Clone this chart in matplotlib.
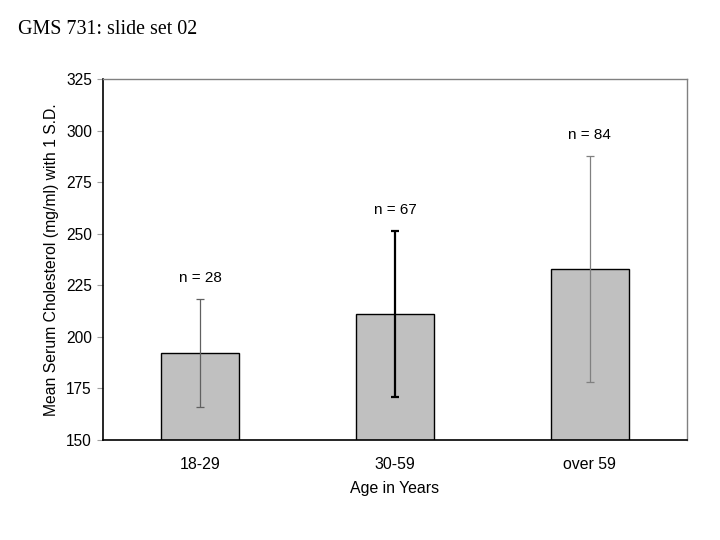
import numpy as np
from matplotlib import pyplot as plt

# chart values
ages = ["18-29", "30-59", "over 59"]
means = [192.2, 211.1, 232.9]
sds = [26.3, 40.4, 54.9]
counts = [28, 67, 84]
yticks = [150, 175, 200, 225, 250, 275, 300, 325]

plt.rcParams["font.family"] = ["Liberation Sans", "DejaVu Sans"]

fig = plt.figure(figsize=(7.2, 5.4), dpi=100)
ax = fig.add_axes([103 / 720, 1 - 440 / 540, 584 / 720, 361 / 540])

x = np.arange(len(ages))
ax.bar(x, means, width=0.4, color="#c0c0c0", edgecolor="black", linewidth=1.0, zorder=2)

# error bars: the middle one is drawn heavier, like the original
err_colors = ["#606060", "black", "#808080"]
err_widths = [0.9, 1.6, 0.9]
for i in range(len(ages)):
	ax.errorbar(x[i], means[i], yerr=sds[i], fmt="none", ecolor=err_colors[i],
		elinewidth=err_widths[i], capsize=3, capthick=err_widths[i], zorder=3)
	ax.text(x[i], means[i] + sds[i] + 10, "n = %d" % counts[i], ha="center", va="center",
		fontsize=11)

ax.set_xlim(-0.5, 2.5)
ax.set_ylim(150, 325)
ax.set_yticks(yticks)
ax.set_xticks(x)
ax.set_xticklabels(ages, fontsize=11.4)
ax.tick_params(axis="y", labelsize=11.2, length=4, color="#a0a0a0", pad=4)
ax.tick_params(axis="x", length=0, pad=12)
ax.set_xlabel("Age in Years", fontsize=11.4, labelpad=7)
ax.set_ylabel("Mean Serum Cholesterol (mg/ml) with 1 S.D.", fontsize=11.3, labelpad=5)

for side in ["top", "right"]:
	ax.spines[side].set_color("#808080")
	ax.spines[side].set_linewidth(1.0)
for side in ["left", "bottom"]:
	ax.spines[side].set_color("black")
	ax.spines[side].set_linewidth(1.2)

fig.text(18 / 720, 1 - 30 / 540, "GMS 731: slide set 02", family="Liberation Serif",
	fontsize=14.4, ha="left", va="center")

plt.savefig("out.png")
